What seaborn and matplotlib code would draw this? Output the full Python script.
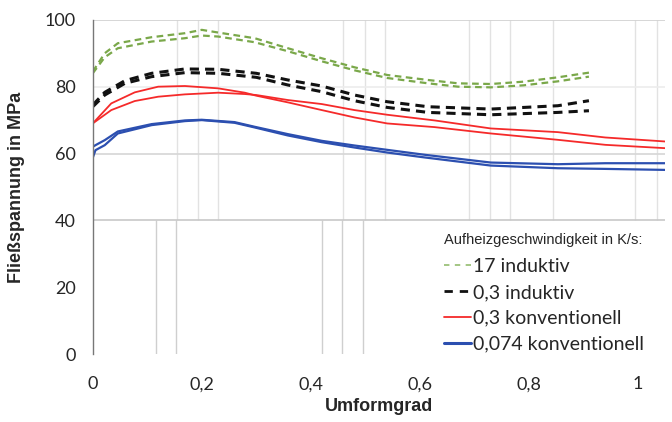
import pandas as pd
import seaborn as sns
import matplotlib.pyplot as plt
from matplotlib.lines import Line2D

# data (x = Umformgrad, y = Fliessspannung in MPa)
x_green = [0, 0.022, 0.046, 0.108, 0.169, 0.2, 0.23, 0.297, 0.358, 0.42, 0.48, 0.54, 0.615, 0.67, 0.73, 0.79, 0.853, 0.91]
green_a = [84.5, 90.0, 93.0, 94.8, 96.0, 97.0, 96.2, 94.5, 91.5, 88.5, 85.8, 83.5, 82.0, 81.0, 80.8, 81.5, 82.8, 84.2]
green_b = [84.0, 88.8, 91.5, 93.5, 94.5, 95.3, 95.0, 93.3, 90.6, 87.6, 84.9, 82.6, 81.0, 80.0, 79.8, 80.4, 81.6, 83.0]

x_black = [0, 0.022, 0.059, 0.108, 0.169, 0.23, 0.30, 0.358, 0.42, 0.48, 0.54, 0.615, 0.73, 0.853, 0.91]
black_a = [74.5, 78.3, 81.8, 84.0, 85.3, 85.2, 84.0, 82.0, 80.2, 77.5, 75.5, 74.0, 73.3, 74.3, 75.8]
black_b = [74.0, 77.5, 81.0, 83.0, 84.2, 84.0, 82.8, 80.5, 78.5, 75.8, 73.8, 72.3, 71.6, 72.3, 72.8]

x_red = [0, 0.034, 0.077, 0.12, 0.169, 0.23, 0.279, 0.30, 0.358, 0.42, 0.48, 0.54, 0.627, 0.73, 0.853, 0.94, 1.05]
red_a = [69.0, 75.0, 78.3, 80.0, 80.2, 79.5, 78.2, 77.3, 75.3, 73.0, 70.8, 69.0, 67.9, 66.0, 64.1, 62.6, 61.6]
red_b = [69.0, 73.0, 75.7, 77.0, 77.7, 78.2, 77.8, 77.5, 76.0, 74.8, 73.0, 71.6, 69.9, 67.5, 66.4, 64.8, 63.6]

x_blue = [0, 0.005, 0.022, 0.046, 0.108, 0.169, 0.2, 0.26, 0.297, 0.358, 0.42, 0.48, 0.54, 0.61, 0.73, 0.853, 0.94, 1.05]
blue_a = [62.0, 62.5, 64.0, 66.6, 68.8, 69.9, 70.1, 69.4, 68.0, 65.8, 63.8, 62.4, 61.1, 59.6, 57.3, 56.8, 57.1, 57.1]
blue_b = [58.7, 61.0, 62.5, 66.0, 68.5, 69.7, 70.0, 69.2, 67.8, 65.4, 63.4, 61.8, 60.3, 58.8, 56.4, 55.6, 55.4, 55.1]

labels = ['17 induktiv', '0,3 induktiv', '0,3 konventionell', '0,074 konventionell']
legend_title = 'Aufheizgeschwindigkeit in K/s:'
x_ticks = [0, 0.2, 0.4, 0.6, 0.8, 1.0]
x_ticklabels = ['0', '0,2', '0,4', '0,6', '0,8', '1']
y_ticks = [0, 20, 40, 60, 80, 100]

# faint scan gridlines
grid_top = [0.154, 0.193, 0.229, 0.459, 0.499, 0.536, 0.69, 0.728, 0.765, 0.844, 0.994, 1.035]
grid_bottom = [0.116, 0.152, 0.42, 0.457, 0.495]

sns.set_style('white')
plt.rcParams['font.family'] = ['Lato', 'DejaVu Sans']

fig = plt.figure(figsize=(6.72, 4.22), dpi=100)
ax = fig.add_axes([0.138, 0.161, 0.852, 0.792])

for gx in grid_top:
    ax.vlines(gx, 40, 100, color='#e2e2e2', lw=1, zorder=0)
for gx in grid_bottom:
    ax.vlines(gx, 0, 40, color='#cfcfcf', lw=1, zorder=0)
for gy, c in [(100, '#cfcfcf'), (80, '#ececec'), (60, '#d6d6d6'), (40, '#c8c8c8')]:
    ax.axhline(gy, color=c, lw=1.2, zorder=0)

green = '#7aa84a'
black = '#111111'
red = '#f52a2a'
blue = '#2c4fb0'

curves = [
    (x_green, green_a, green, 1.6, (3, 2)),
    (x_green, green_b, green, 1.6, (3, 2)),
    (x_black, black_a, black, 2.2, (3, 2)),
    (x_black, black_b, black, 2.2, (3, 2)),
    (x_red, red_a, red, 1.3, None),
    (x_red, red_b, red, 1.3, None),
    (x_blue, blue_a, blue, 1.6, None),
    (x_blue, blue_b, blue, 1.6, None),
]
for xs, ys, col, lw, dash in curves:
    df = pd.DataFrame({'x': xs, 'y': ys})
    sns.lineplot(data=df, x='x', y='y', ax=ax, color=col, lw=lw, estimator=None, sort=False)
    if dash:
        ax.lines[-1].set_dashes(dash)

ax.set_xlim(0, 1.05)
ax.set_ylim(0, 100)
ax.set_xticks(x_ticks)
ax.set_xticklabels(x_ticklabels)
ax.set_yticks(y_ticks)
ax.tick_params(axis='x', length=0, pad=16, labelsize=13)
ax.tick_params(axis='y', length=0, pad=12, labelsize=13)
for s in ['top', 'right', 'bottom']:
    ax.spines[s].set_visible(False)
ax.spines['left'].set_color('#777777')
ax.spines['left'].set_linewidth(1)

ax.set_xlabel('Umformgrad', fontsize=13, fontweight='bold', family='Liberation Sans', labelpad=4)
ax.set_ylabel('Fließspannung in MPa', fontsize=13, fontweight='bold', family='Liberation Sans', labelpad=14)

handles = [
    Line2D([], [], color='#9cc27a', lw=1.3, dashes=(3, 3)),
    Line2D([], [], color=black, lw=2.0, dashes=(3, 2.5)),
    Line2D([], [], color=red, lw=1.3),
    Line2D([], [], color=blue, lw=2.2),
]
leg = ax.legend(handles, labels, title=legend_title, loc='upper left',
                bbox_to_anchor=(0.6, 0.385), frameon=False, fontsize=14,
                handlelength=1.4, handletextpad=0.1, labelspacing=0.45,
                borderaxespad=0, alignment='left')
leg.get_title().set_fontsize(10.5)
leg.get_title().set_family('Liberation Sans')
leg._legend_box.sep = 8

plt.savefig('out.png', dpi=100)
